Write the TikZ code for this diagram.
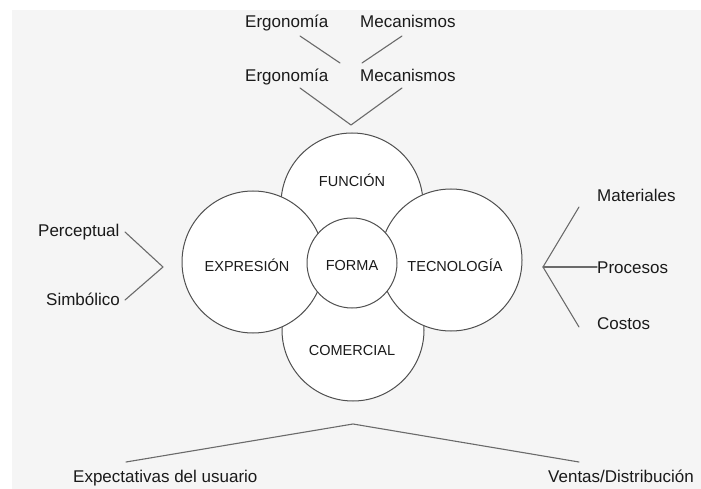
\documentclass[tikz,border=0pt]{standalone}
\usepackage{fontspec}
\setmainfont{Liberation Sans}
\usetikzlibrary{positioning}
\definecolor{bggray}{HTML}{F5F5F5}
\definecolor{linegray}{HTML}{6A6A6A}
\definecolor{ringgray}{HTML}{505050}
\definecolor{txtgray}{HTML}{1A1A1A}

\begin{document}
\begin{tikzpicture}[x=1pt, y=-1pt, line join=round, line cap=round,
    ring/.style={circle, draw=ringgray, fill=white, line width=1pt, inner sep=0pt},
    lbl/.style={inner sep=0pt, anchor=base west, text=txtgray,
                font=\fontsize{17}{19}\selectfont},
    inlbl/.style={inner sep=0pt, anchor=base, text=txtgray,
                  font=\fontsize{14.5}{16}\selectfont},
    branch/.style={draw=linegray, line width=1.1pt}]

    \useasboundingbox (0,0) rectangle (701,489);
    \fill[white] (0,0) rectangle (701,489);
    \fill[bggray] (12,10) rectangle (701,489);

    % circles
    \node[ring, minimum size=142pt] (funcion) at (352,204) {};
    \node[ring, minimum size=142pt] (comercial) at (353,330) {};
    \node[ring, minimum size=142pt] (expresion) at (253,262) {};
    \node[ring, minimum size=142pt] (tecnologia) at (451,260) {};
    \node[ring, minimum size=90pt] (forma) at (352,263) {};

    \node[inlbl] (funciontxt) at (352,187) {FUNCIÓN};
    \node[inlbl] (expresiontxt) at (247,271) {EXPRESIÓN};
    \node[inlbl] (formatxt) at (352,270) {FORMA};
    \node[inlbl] (tecnologiatxt) at (455,271) {TECNOLOGÍA};
    \node[inlbl] (comercialtxt) at (352,355) {COMERCIAL};

    % top labels
    \node[lbl] (ergo1) at (245,28) {Ergonomía};
    \node[lbl] (meca1) at (360,28) {Mecanismos};
    \node[lbl] (ergo2) at (245,82) {Ergonomía};
    \node[lbl] (meca2) at (360,82) {Mecanismos};

    \coordinate (0) at (300,36);
    \coordinate (1) at (340,63);
    \coordinate (2) at (402,36);
    \coordinate (3) at (362,63);
    \coordinate (4) at (300,88);
    \coordinate (5) at (351,125);
    \coordinate (6) at (402,88);

    \draw[branch] (0) -- (1);
    \draw[branch] (2) -- (3);
    \draw[branch] (4) -- (5) -- (6);

    % left labels
    \node[lbl] (perceptual) at (38,236) {Perceptual};
    \node[lbl] (simbolico) at (46,305) {Simbólico};

    \coordinate (7) at (125,232);
    \coordinate (8) at (163,267);
    \coordinate (9) at (125,300);

    \draw[branch] (7) -- (8) -- (9);

    % right labels
    \node[lbl] (materiales) at (597,202) {Materiales};
    \node[lbl] (procesos) at (597,273) {Procesos};
    \node[lbl] (costos) at (597,329) {Costos};

    \coordinate (10) at (579,207);
    \coordinate (11) at (543,267);
    \coordinate (12) at (579,327);

    \draw[branch] (10) -- (11) -- (12);
    \draw[branch] (11) -- (procesos.west |- 11);

    % bottom labels
    \node[lbl] (expectativas) at (73,482) {Expectativas del usuario};
    \node[lbl] (ventas) at (548,482) {Ventas/Distribución};

    \coordinate (13) at (126,462);
    \coordinate (14) at (353,424);
    \coordinate (15) at (579,462);

    \draw[branch] (13) -- (14) -- (15);

\end{tikzpicture}
\end{document}
